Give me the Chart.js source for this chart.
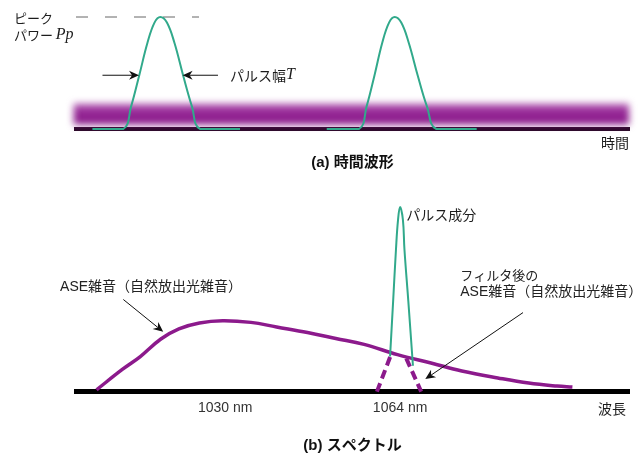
<!DOCTYPE html>
<html lang="ja">
<head>
<meta charset="utf-8">
<title>パルス波形とスペクトル</title>
<script src="https://cdn.jsdelivr.net/npm/chart.js@4.4.1/dist/chart.umd.min.js"></script>
<style>
  html, body { margin: 0; padding: 0; background: #fff; }
  #wrap { position: relative; width: 643px; height: 461px; overflow: hidden; }
  canvas { position: absolute; left: 0; display: block; }
  #timeChart { top: 0; }
  #specChart { top: 180px; }
</style>
</head>
<body>
<div id="wrap">
  <canvas id="timeChart" width="643" height="180"></canvas>
  <canvas id="specChart" width="643" height="281"></canvas>
</div>
<script>
// ---------- (a) 時間波形: time axis in pulse periods, power normalised to Pp ----------
const timeRange   = [0.64, 3.0];
const peakPower   = 1.0;
const pulse1Time  = [0.71, 0.842, 0.875, 0.91, 0.945, 0.975, 1.0, 1.028, 1.06, 1.097, 1.135, 1.17, 1.34];
const pulse1Power = [0, 0, 0.2, 0.48, 0.77, 0.95, 1.0, 0.95, 0.77, 0.48, 0.2, 0, 0];
const pulse2Time  = [1.71, 1.848, 1.88, 1.914, 1.947, 1.976, 2.0, 2.028, 2.06, 2.098, 2.138, 2.178, 2.35];
const pulse2Power = [0, 0, 0.2, 0.48, 0.77, 0.95, 1.0, 0.95, 0.77, 0.48, 0.2, 0, 0];
const aseTime     = [0.63, 3.0];
const asePower    = [0.134, 0.134];
const peakGuideTime = [0.64, 1.165];

// ---------- (b) スペクトル: wavelength in nm, intensity normalised to the pulse peak ----------
const wavelengthRange  = [1001, 1108.5];
const wavelengthTicks  = [1030, 1064];
const aseWavelength    = [1005, 1010, 1013.5, 1017.5, 1021, 1025, 1029.5, 1035, 1040, 1046, 1051.5, 1057, 1063.5, 1070, 1076, 1083, 1089, 1094.5, 1097.5];
const aseIntensity     = [0.01, 0.12, 0.19, 0.285, 0.34, 0.372, 0.384, 0.375, 0.35, 0.32, 0.288, 0.256, 0.2, 0.155, 0.112, 0.074, 0.046, 0.03, 0.025];
const pulseWavelength  = [1062.05, 1062.65, 1063.2, 1063.6, 1064.0, 1064.55, 1064.85, 1065.6, 1066.5];
const pulseIntensity   = [0.19, 0.49, 0.77, 0.93, 1.0, 0.93, 0.77, 0.49, 0.14];
const filteredWavelength = [1059.5, 1062.1, 1063.6, 1065.2, 1068.1];
const filteredIntensity  = [0, 0.19, null, 0.18, 0];

// ---------- shared styling ----------
const GREEN  = '#31a98b';
const PURPLE = '#8c1a8c';
const INK    = '#1c1c1c';
const SANS   = '"Liberation Sans", "Noto Sans CJK JP", sans-serif';
const JP     = '"Noto Sans CJK JP", "Liberation Sans", sans-serif';
const SERIF_I = 'italic 16px "Liberation Serif", serif';

Chart.defaults.font.family = SANS;
Chart.defaults.color = INK;

const zip = (xs, ys) => xs.map((x, i) => ({ x, y: ys[i] }));

// Arrow with a notched, filled head pointing at (x2, y2)
function drawArrow(ctx, x1, y1, x2, y2, a) {
  const ang = Math.atan2(y2 - y1, x2 - x1);
  const c = Math.cos(ang), s = Math.sin(ang);
  const len = a.head || 10, half = a.half || 4.5;
  ctx.strokeStyle = ctx.fillStyle = a.color || '#111';
  ctx.lineWidth = a.width || 1;
  ctx.beginPath();
  ctx.moveTo(x1, y1);
  ctx.lineTo(x2 - c * len * 0.7, y2 - s * len * 0.7);
  ctx.stroke();
  ctx.beginPath();
  ctx.moveTo(x2, y2);
  ctx.lineTo(x2 - c * len - s * half, y2 - s * len + c * half);
  ctx.lineTo(x2 - c * len * 0.7, y2 - s * len * 0.7);
  ctx.lineTo(x2 - c * len + s * half, y2 - s * len - c * half);
  ctx.closePath();
  ctx.fill();
}

// Text made of differently styled runs, vertically centred on y
function drawRich(ctx, x, y, parts, align, color) {
  ctx.textBaseline = 'middle';
  ctx.textAlign = 'left';
  ctx.fillStyle = color || INK;
  let total = 0;
  const widths = parts.map(p => { ctx.font = p.font; const w = ctx.measureText(p.t).width; total += w; return w; });
  let cx = align === 'right' ? x - total : align === 'center' ? x - total / 2 : x;
  parts.forEach((p, i) => { ctx.font = p.font; ctx.fillText(p.t, cx, y); cx += widths[i]; });
}

// Annotation labels and arrows, positioned in data units through the chart's scales
const notesPlugin = {
  id: 'notes',
  afterDraw(chart, args, opts) {
    const { ctx } = chart;
    const sx = chart.scales.x, sy = chart.scales.y;
    const px = v => sx.getPixelForValue(v);
    const py = v => sy.getPixelForValue(v);
    ctx.save();
    (opts.arrows || []).forEach(a => drawArrow(ctx, px(a.from[0]), py(a.from[1]), px(a.to[0]), py(a.to[1]), a));
    (opts.labels || []).forEach(l => drawRich(ctx, px(l.at[0]), py(l.at[1]), l.parts, l.align, l.color));
    ctx.restore();
  }
};

// Soft blur for datasets that ask for it (the ASE haze band)
const hazePlugin = {
  id: 'haze',
  beforeDatasetDraw(chart, args) {
    const ds = chart.data.datasets[args.index];
    if (ds.blur) { chart.ctx.save(); chart.ctx.filter = `blur(${ds.blur}px)`; }
  },
  afterDatasetDraw(chart, args) {
    const ds = chart.data.datasets[args.index];
    if (ds.blur) chart.ctx.restore();
  }
};

// Haze band colour: lighter towards its upper edge
function hazeColor(context) {
  const { chart } = context;
  const y = chart.scales.y;
  if (!y || !chart.chartArea) return 'rgba(140, 26, 140, 0.95)';
  const top = y.getPixelForValue(asePower[0]) - 11;
  const bottom = y.getPixelForValue(asePower[0]) + 11;
  const g = chart.ctx.createLinearGradient(0, top, 0, bottom);
  g.addColorStop(0, 'rgba(170, 70, 170, 0.75)');
  g.addColorStop(0.35, 'rgba(145, 30, 145, 0.95)');
  g.addColorStop(1, 'rgba(135, 22, 135, 1)');
  return g;
}

const jp14 = '14px ' + JP;
const jp13 = '13px ' + JP;
const mix14 = '14px ' + SANS;

// ---------- chart (a) ----------
new Chart(document.getElementById('timeChart'), {
  type: 'line',
  data: {
    datasets: [
      { data: zip(pulse1Time, pulse1Power), borderColor: GREEN, borderWidth: 2, tension: 0.4, pointRadius: 0, clip: false },
      { data: zip(pulse2Time, pulse2Power), borderColor: GREEN, borderWidth: 2, tension: 0.4, pointRadius: 0, clip: false },
      { data: zip(peakGuideTime, [peakPower, peakPower]), borderColor: '#666', borderWidth: 1, borderDash: [12, 17], pointRadius: 0, clip: false },
      { data: zip(aseTime, asePower), borderColor: hazeColor, borderWidth: 21, borderCapStyle: 'butt', pointRadius: 0, clip: false, blur: 3.5 }
    ]
  },
  options: {
    responsive: false,
    animation: false,
    events: [],
    layout: { padding: { left: 76, right: 14, top: 17, bottom: 8 } },
    scales: {
      x: {
        type: 'linear', min: timeRange[0], max: timeRange[1],
        grid: { drawOnChartArea: false, drawTicks: false },
        border: { color: '#2a0a28', width: 4 },
        ticks: { display: false },
        title: { display: true, text: '時間', align: 'end', font: { size: 14, family: JP }, color: INK, padding: { top: 5.6, bottom: 0 } }
      },
      y: { type: 'linear', min: 0, max: peakPower, display: false }
    },
    plugins: {
      legend: { display: false },
      tooltip: { enabled: false },
      title: {
        display: true, position: 'bottom', fullSize: false, text: '(a) 時間波形',
        font: { size: 15, weight: 'bold', family: SANS }, color: '#111', padding: { top: 2.6, bottom: 0 }
      },
      notes: {
        arrows: [
          { from: [0.753, 0.48], to: [0.909, 0.48] },
          { from: [1.246, 0.48], to: [1.095, 0.48] }
        ],
        labels: [
          { at: [0.375, 0.99], parts: [{ t: 'ピーク', font: jp13 }] },
          { at: [0.375, 0.84], parts: [{ t: 'パワー ', font: jp13 }, { t: 'Pp', font: SERIF_I }] },
          { at: [1.297, 0.48], parts: [{ t: 'パルス幅', font: jp14 }, { t: 'T', font: SERIF_I }] }
        ]
      }
    }
  },
  plugins: [hazePlugin, notesPlugin]
});

// ---------- chart (b) ----------
new Chart(document.getElementById('specChart'), {
  type: 'line',
  data: {
    datasets: [
      { data: zip(pulseWavelength, pulseIntensity), borderColor: GREEN, borderWidth: 2, tension: 0.4, pointRadius: 0, clip: false },
      { data: zip(aseWavelength, aseIntensity), borderColor: PURPLE, borderWidth: 3.5, tension: 0.4, pointRadius: 0, clip: false },
      { data: zip(filteredWavelength, filteredIntensity), borderColor: PURPLE, borderWidth: 4, borderDash: [9, 5], spanGaps: false, pointRadius: 0, clip: false }
    ]
  },
  options: {
    responsive: false,
    animation: false,
    events: [],
    layout: { padding: { left: 76, right: 14, top: 27, bottom: 6 } },
    scales: {
      x: {
        type: 'linear', min: wavelengthRange[0], max: wavelengthRange[1],
        afterBuildTicks: scale => { scale.ticks = wavelengthTicks.map(v => ({ value: v })); },
        grid: { drawOnChartArea: false, drawTicks: false },
        border: { color: '#000', width: 5 },
        ticks: { autoSkip: false, maxRotation: 0, padding: 8, color: '#333', font: { size: 14, family: SANS }, callback: v => v + ' nm' }
      },
      y: { type: 'linear', min: 0, max: 1, display: false }
    },
    plugins: {
      legend: { display: false },
      tooltip: { enabled: false },
      title: {
        display: true, position: 'bottom', fullSize: false, text: '(b) スペクトル',
        font: { size: 15, weight: 'bold', family: SANS }, color: '#111', padding: { top: 12.6, bottom: 0 }
      },
      notes: {
        arrows: [
          { from: [1010.2, 0.499], to: [1017.95, 0.324] },
          { from: [1087.9, 0.428], to: [1068.9, 0.068] }
        ],
        labels: [
          { at: [997.9, 0.564], parts: [{ t: 'ASE雑音（自然放出光雑音）', font: mix14 }], color: '#222' },
          { at: [1065.2, 0.956], parts: [{ t: 'パルス成分', font: jp14 }] },
          { at: [1075.7, 0.629], parts: [{ t: 'フィルタ後の', font: jp13 }], color: '#222' },
          { at: [1075.7, 0.537], parts: [{ t: 'ASE雑音（自然放出光雑音）', font: mix14 }], color: '#222' },
          { at: [1107.9, -0.09], parts: [{ t: '波長', font: jp14 }], align: 'right' }
        ]
      }
    }
  },
  plugins: [notesPlugin]
});
</script>
</body>
</html>
